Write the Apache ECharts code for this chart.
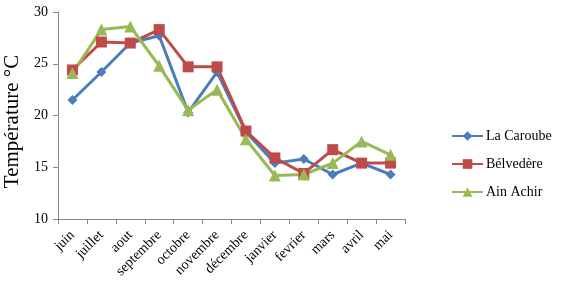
<!DOCTYPE html>
<html>
<head>
<meta charset="utf-8">
<script src="https://cdn.jsdelivr.net/npm/echarts@6/dist/echarts.min.js"></script>
<style>
  html, body { margin: 0; padding: 0; background: #fff; }
  #chart { width: 565px; height: 299px; }
</style>
</head>
<body>
<div id="chart"></div>
<script>
var months = ['juin', 'juillet', 'aout', 'septembre', 'octobre', 'novembre', 'décembre', 'janvier', 'fevrier', 'mars', 'avril', 'mai'];
var laCaroube = [21.5, 24.2, 27.0, 27.7, 20.3, 24.2, 18.4, 15.4, 15.8, 14.3, 15.4, 14.3];
var belvedere = [24.4, 27.1, 27.0, 28.3, 24.7, 24.7, 18.5, 15.9, 14.4, 16.7, 15.4, 15.4];
var ainAchir = [24.1, 28.3, 28.6, 24.8, 20.5, 22.5, 17.7, 14.2, 14.3, 15.4, 17.5, 16.2];

var serif = '"Liberation Serif", "DejaVu Serif", serif';
var axisGray = '#868686';

function line(name, data, color, symbol, size) {
  return {
    name: name,
    type: 'line',
    data: data,
    symbol: symbol,
    symbolSize: size,
    lineStyle: { color: color, width: 3 },
    itemStyle: { color: color },
    emphasis: { disabled: true }
  };
}

var chart = echarts.init(document.getElementById('chart'), null, { renderer: 'canvas' });
chart.setOption({
  animation: false,
  textStyle: { fontFamily: serif },
  grid: { left: 58, right: 160, top: 12, bottom: 80, containLabel: false, outerBoundsMode: 'none' },
  legend: {
    orient: 'vertical',
    left: 446,
    top: 124,
    itemWidth: 31,
    itemHeight: 12,
    itemGap: 14,
    textStyle: { fontFamily: serif, fontSize: 14, color: '#000', padding: [0, 0, 0, -2] },
    data: ['La Caroube', 'Bélvedère', 'Ain Achir']
  },
  xAxis: {
    type: 'category',
    data: months,
    boundaryGap: true,
    axisLine: { lineStyle: { color: axisGray, width: 1 } },
    axisTick: { show: true, alignWithLabel: false, length: 5, lineStyle: { color: axisGray } },
    axisLabel: { rotate: 45, fontFamily: serif, fontSize: 14, color: '#000', interval: 0, margin: 14 },
    splitLine: { show: false }
  },
  yAxis: {
    type: 'value',
    min: 10,
    max: 30,
    interval: 5,
    name: 'Température °C',
    nameLocation: 'middle',
    nameGap: 29,
    nameTextStyle: { fontFamily: serif, fontSize: 21, color: '#000', padding: [0, 12, 0, 0] },
    axisLine: { show: true, lineStyle: { color: axisGray, width: 1 } },
    axisTick: { show: true, length: 5, lineStyle: { color: axisGray } },
    axisLabel: { fontFamily: serif, fontSize: 14, color: '#000', margin: 10 },
    splitLine: { show: false }
  },
  series: [
    line('La Caroube', laCaroube, '#4a7ebb', 'diamond', 10),
    line('Bélvedère', belvedere, '#be4b48', 'rect', 11),
    line('Ain Achir', ainAchir, '#98b954', 'triangle', 12)
  ]
});
</script>
</body>
</html>
